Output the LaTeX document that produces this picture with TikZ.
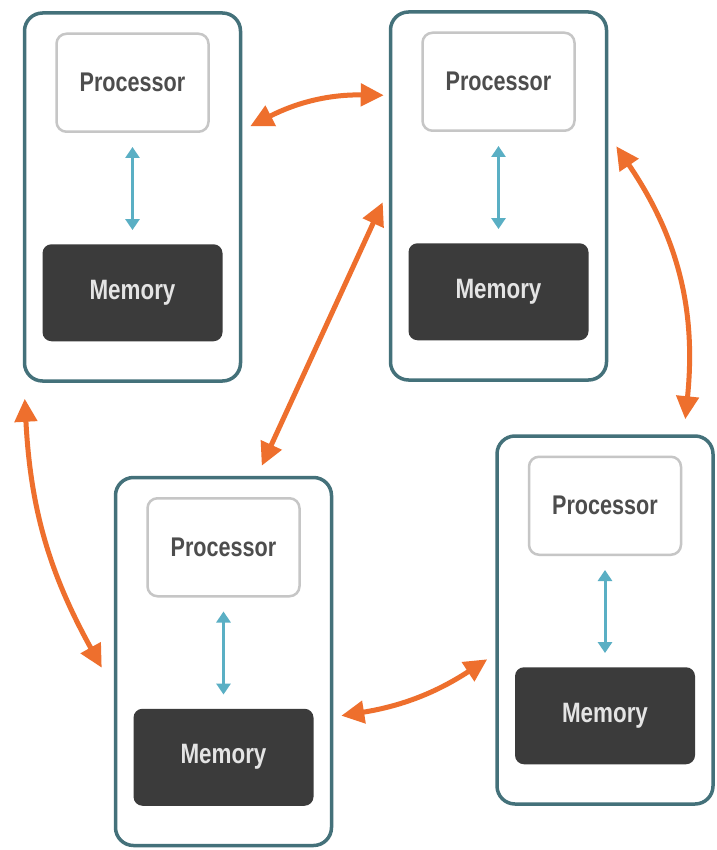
\documentclass[tikz,border=0pt]{standalone}
\usepackage{fontspec}
\newfontfamily\lblfont{Liberation Sans}[FakeStretch=0.8]
\usetikzlibrary{arrows.meta,calc}
\definecolor{boxedge}{HTML}{44717A}
\definecolor{procedge}{HTML}{C6C6C6}
\definecolor{proctext}{HTML}{4D4D4D}
\definecolor{memfill}{HTML}{3B3B3B}
\definecolor{memtext}{HTML}{E4E4E4}
\definecolor{busblue}{HTML}{5AAFC4}
\definecolor{linkorange}{HTML}{EE6F2D}
\begin{document}
\begin{tikzpicture}[x=1pt,y=-1pt,
  unit/.style={draw=boxedge, line width=3.5pt, rounded corners=18pt, minimum width=216pt, minimum height=368pt, fill=white, inner sep=0pt},
  proc/.style={draw=procedge, line width=2.5pt, rounded corners=10pt, minimum width=152pt, minimum height=98pt, fill=white, inner sep=0pt, font=\lblfont\bfseries\fontsize{27}{30}\selectfont, text=proctext},
  mem/.style={fill=memfill, rounded corners=9pt, minimum width=180pt, minimum height=97pt, inner sep=0pt, font=\lblfont\bfseries\fontsize{28}{30}\selectfont, text=memtext},
  bus/.style={draw=busblue, line width=3pt, {Triangle[length=11pt,width=14pt]}-{Triangle[length=11pt,width=14pt]}, shorten <=14pt, shorten >=14pt},
  link/.style={draw=linkorange, line width=5pt, {Triangle[length=23pt,width=22pt]}-{Triangle[length=23pt,width=22pt]}}
]
\fill[white] (0,0) rectangle (716,850);
\useasboundingbox (0,0) rectangle (716,850);

\node[unit] (b1) at (132.5,197) {};
\node[unit] (b2) at (498.5,196) {};
\node[unit] (b3) at (223.5,661.5) {};
\node[unit] (b4) at (605,620) {};

\foreach \i in {1,2,3,4}{
  \node[proc] (p\i) at ($(b\i.north)+(0,71.5)$) {Processor};
  \node[mem] (m\i) at ($(b\i.north)+(0,281.5)$) {Memory};
  \draw[bus] (p\i) -- (m\i);
}

\draw[link] ($(b1.north east)+(8,115)$) to[bend left=14] ($(b2.north west)+(-5,85)$);
\draw[link] ($(b2.north west)+(-6,192)$) -- ($(b3.north west)+(148,-10)$);
\draw[link] ($(b2.north east)+(8,136)$) to[bend left=20] ($(b4.north west)+(190,-15)$);
\draw[link] ($(b1.south west)+(2,16)$) to[bend right=13] ($(b3.north west)+(-12,192)$);
\draw[link] ($(b3.north east)+(8,240)$) to[bend right=12] ($(b4.north west)+(-8,225)$);
\end{tikzpicture}
\end{document}
